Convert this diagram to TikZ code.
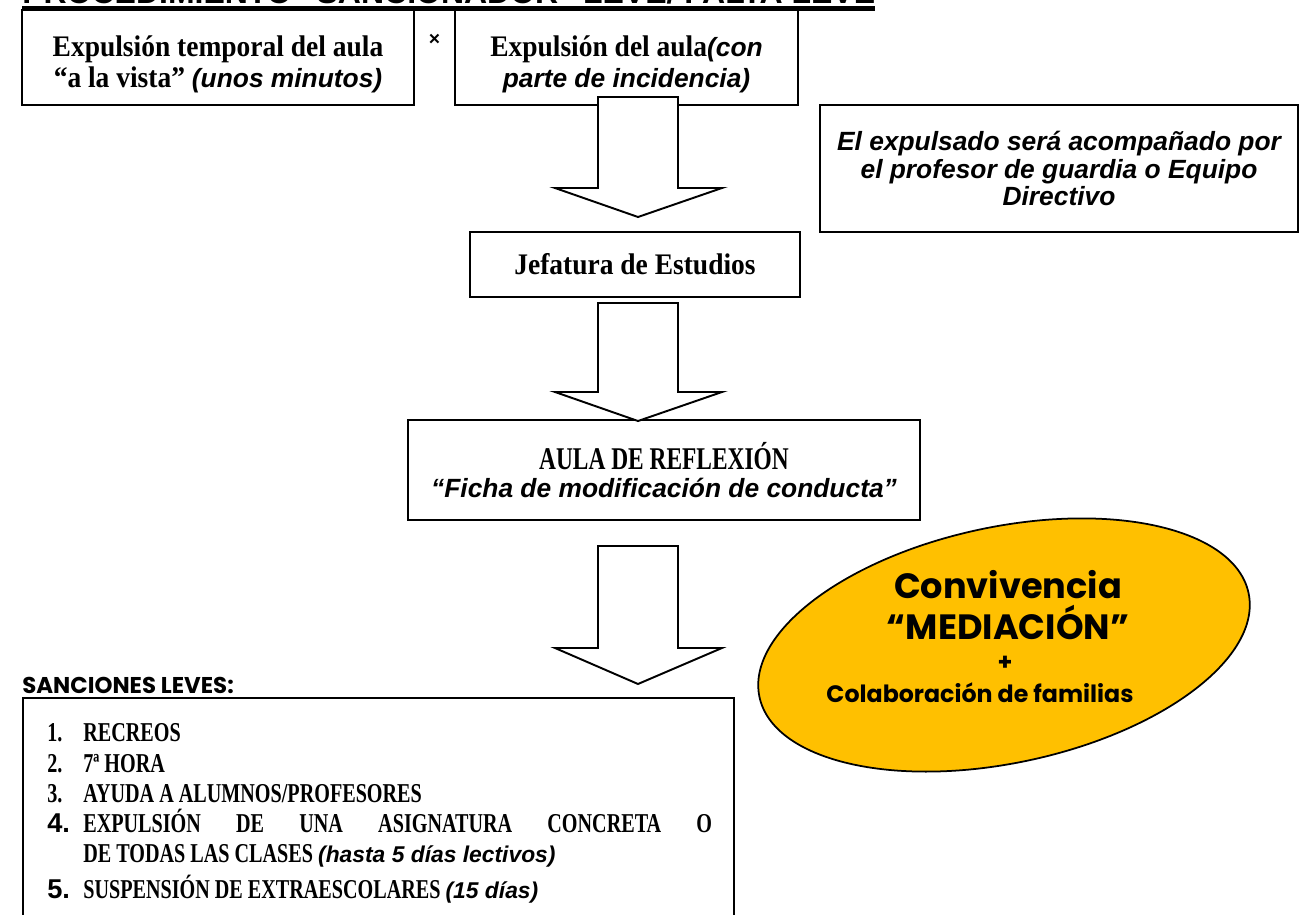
\documentclass[tikz,border=0pt]{standalone}
\usepackage{fontspec}
\setmainfont{Liberation Serif}
\newfontfamily\camb{Liberation Serif}[FakeStretch=0.92]
\newfontfamily\cambc{Liberation Serif}[FakeStretch=0.74]
\newfontfamily\arialf{Liberation Sans}
\newfontfamily\dispf{Poppins}
\usetikzlibrary{shapes.geometric}
\definecolor{mediagold}{HTML}{FFC000}
\newcommand{\itsf}[2][15]{{\arialf\bfseries\itshape\fontsize{#1}{#1}\selectfont #2}}
\def\px{0.02cm}
\tikzset{
    every node/.style={inner sep=0pt},
    plainbox/.style={draw=black, line width=1.1pt, fill=white, align=center},
    boxtext/.style={font=\camb\bfseries\fontsize{17}{18}\selectfont, align=center},
    guardtext/.style={font=\arialf\bfseries\itshape\fontsize{15}{15.5}\selectfont},
    arrowbox/.style={draw=black, line width=1.1pt, fill=white, line join=miter},
    goldellipse/.style={ellipse, draw=black, line width=1pt, fill=mediagold},
    dispbig/.style={font=\dispf\bfseries\fontsize{20}{17}\selectfont, align=center},
    dispsmall/.style={font=\dispf\bfseries\fontsize{13.5}{16}\selectfont},
    listtext/.style={font=\cambc\bfseries\fontsize{15.5}{16}\selectfont, anchor=base west},
}
\begin{document}
\begin{tikzpicture}[x=0.02cm, y=-0.02cm]
\useasboundingbox (0,0) rectangle (1300,915);
% title, cut at the top of the page
\node[font=\arialf\bfseries\fontsize{18.2}{18}\selectfont, anchor=base west] (titulo) at (22,4)
  {PROCEDIMIENTO “SANCIONADOR” LEVE/ FALTA LEVE};
\draw[line width=2.8pt] ([yshift=-0.09cm]titulo.base west) -- ([yshift=-0.09cm]titulo.base east);

% top row
\node[plainbox, minimum width=392*\px, minimum height=95*\px] (expAula) at (218,57.5) {};
\node[boxtext] (expAulaTxt) at ([yshift=-7*\px]expAula.center)
  {Expulsión temporal del aula\\ “a la vista” \itsf{(unos minutos)}};
\node[plainbox, minimum width=343*\px, minimum height=95*\px] (expParte) at (626.5,57.5) {};
\node[boxtext] (expParteTxt) at ([yshift=-7*\px]expParte.center)
  {Expulsión del aula\itsf{(con}\\ \itsf{parte de incidencia)}};
\node[font=\arialf\bfseries\fontsize{11}{11}\selectfont] (cruz) at (434.5,40) {×};

\node[plainbox, guardtext, minimum width=478*\px, minimum height=127*\px] (guardia) at (1059,168.5)
  {El expulsado será acompañado por\\ el profesor de guardia o Equipo\\ Directivo};

\node[plainbox, boxtext, minimum width=330*\px, minimum height=65*\px] (jefatura) at (635,264.5)
  {Jefatura de Estudios};

\node[plainbox, minimum width=512*\px, minimum height=100*\px] (reflexion) at (664,470)
  {{\cambc\bfseries\fontsize{18}{18}\selectfont AULA DE REFLEXIÓN}\\[4pt] \itsf{“Ficha de modificación de conducta”}};

% block arrows
\foreach \top/\neck/\tip in {97/188/217, 303/392/421, 546/648/684}{
  \draw[arrowbox] (598,\top) -- (678,\top) -- (678,\neck) -- (722,\neck) -- (638,\tip)
    -- (555,\neck) -- (598,\neck) -- cycle;
}

% sanciones
\node[font=\dispf\bfseries\fontsize{13}{13}\selectfont, anchor=base west] (sanciones) at (22,693) {SANCIONES LEVES:};
\node[plainbox, minimum width=711*\px, minimum height=250*\px, anchor=north west] (lista) at (22,697) {};

\foreach \num/\yy/\txt [count=\k] in {
  {1.}/741/{RECREOS},
  {2.}/772/{7ª HORA},
  {3.}/802/{AYUDA A ALUMNOS/PROFESORES},
  {\arialf 4.}/832/{\makebox[12.58cm][s]{EXPULSIÓN DE UNA ASIGNATURA CONCRETA O}},
  {}/862/{DE TODAS LAS CLASES \itsf[13]{(hasta 5 días lectivos)}},
  {\arialf 5.}/898/{SUSPENSIÓN DE EXTRAESCOLARES \itsf[13]{(15 días)}}}{
  \node[listtext] (num\k) at (47,\yy) {\num};
  \node[listtext] (item\k) at (83,\yy) {\txt};
}

% convivencia
\node[goldellipse, minimum width=500*\px, minimum height=236*\px, rotate=12] (convivencia) at (1004,645) {};
\node[dispbig] (mediacion) at (1008,605) {Convivencia\\[3pt] “MEDIACIÓN”};
\node[dispsmall] (mas) at (1005,663) {+};
\node[dispsmall] (familias) at (980,693) {Colaboración de familias};
\end{tikzpicture}
\end{document}
